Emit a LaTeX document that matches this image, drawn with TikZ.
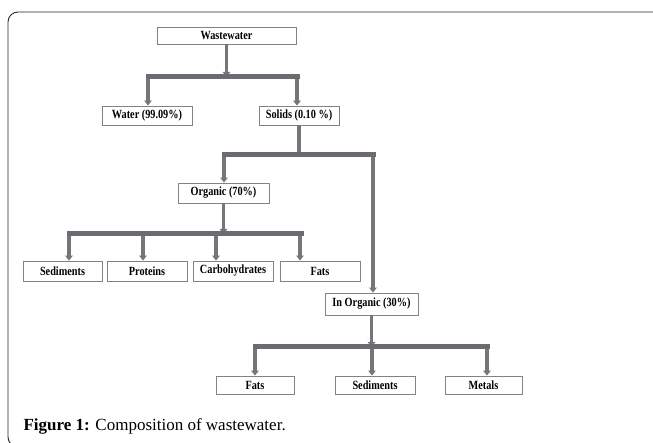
\documentclass[tikz,border=0pt]{standalone}
\usepackage{fontspec}
\setmainfont{Liberation Serif}
\newfontfamily\boxfont[FakeStretch=0.82]{Liberation Serif}
\usetikzlibrary{arrows.meta}

\definecolor{linkgray}{RGB}{118,118,118}
\definecolor{bargray}{RGB}{105,108,112}
\definecolor{boxgray}{RGB}{130,130,130}

\tikzset{
  box/.style={draw=boxgray, line width=0.9pt, inner sep=0pt, minimum height=19pt,
    font=\boxfont\bfseries\fontsize{12.5}{13}\selectfont},
  bar/.style={draw=bargray, line width=5pt, line cap=rect},
  link/.style={draw=linkgray, line width=3.3pt, -{Triangle[width=7.5pt,length=5pt]}},
  stem/.style={draw=linkgray, line width=3.3pt}
}

\begin{document}
\begin{tikzpicture}[x=1pt,y=-1pt]
\useasboundingbox (0,0) rectangle (653,443);

% frame
\begin{scope}
\clip (0,0) rectangle (653,443);
\draw[black!85, line width=0.9pt, rounded corners=10pt] (670,12) -- (8,12) -- (8,447) -- (40,447);
\end{scope}

% boxes
\node[box, minimum width=139pt, minimum height=17pt] (ww) at (226.5,35.5) {Wastewater};
\node[box, minimum width=90pt] (water) at (147,115.5) {Water (99.09\%)};
\node[box, minimum width=80pt] (solids) at (299,115.5) {Solids (0.10 \%)};
\node[box, minimum width=91pt, minimum height=20pt] (organic) at (223.5,193) {Organic (70\%)};
\node[box, minimum width=79pt, minimum height=20pt] (sed1) at (62.5,271) {Sediments};
\node[box, minimum width=80pt, minimum height=20pt] (prot) at (147,271) {Proteins};
\node[box, minimum width=80pt, minimum height=20pt] (carb) at (233,271) {Carbohydrates};
\node[box, minimum width=80pt, minimum height=20pt] (fats1) at (320,271) {Fats};
\node[box, minimum width=93pt, minimum height=22pt] (inorg) at (371.5,304) {In Organic (30\%)};
\node[box, minimum width=78pt, minimum height=18pt] (fats2) at (255,385) {Fats};
\node[box, minimum width=80pt, minimum height=18pt] (sed2) at (375,385) {Sediments};
\node[box, minimum width=77pt, minimum height=18pt] (metals) at (483.5,385) {Metals};

% bars
\coordinate (b1l) at (148,77);
\coordinate (b1r) at (297,77);
\coordinate (b2l) at (224,155);
\coordinate (b2r) at (373,155);
\coordinate (b3l) at (69,234);
\coordinate (b3r) at (301,234);
\coordinate (b4l) at (255,347);
\coordinate (b4r) at (487,347);

% level 1
\draw[link] (ww.south) -- (ww.south |- b1l);
\draw[link] (b1l) -- (b1l |- water.north);
\draw[link] (b1r) -- (b1r |- solids.north);
\draw[bar] (b1l) -- (b1r);

% level 2
\draw[stem] (solids.south) -- (solids.south |- b2l);
\draw[link] (b2l) -- (b2l |- organic.north);
\draw[link] (b2r) -- (b2r |- inorg.north);
\draw[bar] (b2l) -- (b2r);

% organic
\draw[link] (organic.south) -- (organic.south |- b3l);
\foreach \x/\n in {69/sed1,143/prot,216/carb,300/fats1}
    \draw[link] (\x,234) -- (\x,0 |- \n.north);
\draw[bar] (b3l) -- (b3r);

% in organic
\draw[link] (inorg.south) -- (inorg.south |- b4l);
\foreach \x/\n in {255/fats2,372/sed2,487/metals}
    \draw[link] (\x,347) -- (\x,0 |- \n.north);
\draw[bar] (b4l) -- (b4r);

% caption
\node[anchor=west, font=\fontsize{17}{19}\selectfont] (cap) at (20,426) {\textbf{Figure 1:} Composition of wastewater.};
\end{tikzpicture}
\end{document}
